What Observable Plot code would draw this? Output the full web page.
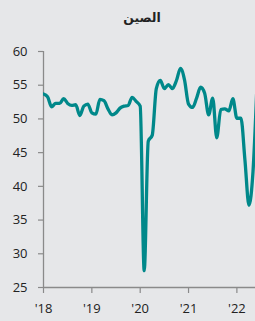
<!DOCTYPE html>
<html><head><meta charset="utf-8">
<script src="https://cdn.jsdelivr.net/npm/d3@7"></script>
<script src="https://cdn.jsdelivr.net/npm/@observablehq/plot@0.6"></script>
<style>
html,body{margin:0;padding:0;background:#e6e7e9;}
#wrap{width:255px;height:321px;overflow:hidden;background:#e6e7e9;}
#title{height:36px;line-height:36px;box-sizing:border-box;padding-left:29px;text-align:center;font-family:"DejaVu Sans",sans-serif;font-size:12.5px;font-weight:bold;color:#222;}
svg{display:block;}
</style></head>
<body><div id="wrap"><div id="title" dir="rtl">الصين</div><div id="chart"></div></div>
<script>
const title = "الصين";
const startYear = 2018;
const pmi = [
  53.7, 53.3, 51.8, 52.3, 52.3, 53.0, 52.3, 52.0, 52.1, 50.5, 51.9, 52.2,
  50.9, 50.7, 52.9, 52.7, 51.5, 50.6, 50.9, 51.6, 51.9, 52.0, 53.2, 52.6,
  51.9, 27.5, 46.7, 47.6, 54.5, 55.7, 54.5, 55.1, 54.5, 55.7, 57.5, 55.8,
  52.2, 51.7, 53.1, 54.7, 53.8, 50.6, 53.1, 47.2, 51.4, 51.5, 51.2, 53.0,
  50.1, 50.1, 43.9, 37.2, 42.2, 55.3
];
const yTicks = [25, 30, 35, 40, 45, 50, 55, 60];
const xTicks = [2018, 2019, 2020, 2021, 2022];
const xTickLabels = ["'18", "'19", "'20", "'21", "'22"];

const data = pmi.map((v, i) => ({t: startYear + i / 12, v}));

const chart = Plot.plot({
  width: 255,
  height: 285,
  marginLeft: 43,
  marginRight: 0,
  marginTop: 15,
  marginBottom: 34,
  style: {background: "#e6e7e9", fontFamily: "'Open Sans', sans-serif", fontSize: "13px", color: "#222", overflow: "hidden"},
  x: {domain: [2018, 2022.385], ticks: xTicks, tickFormat: d => xTickLabels[xTicks.indexOf(d)], tickSize: 6, tickPadding: 10, label: null},
  y: {domain: [25, 60], ticks: yTicks, tickSize: 5, tickPadding: 11, label: null},
  marks: [
    Plot.axisX({ticks: xTicks, tickFormat: d => xTickLabels[xTicks.indexOf(d)], tickSize: 6, tickPadding: 10, stroke: "#8a8a8a", strokeWidth: 1.2, color: "#222", fontSize: 13}),
    Plot.axisY({ticks: yTicks, tickSize: 5, tickPadding: 11, stroke: "#8a8a8a", strokeWidth: 1.2, color: "#222", fontSize: 13}),
    Plot.ruleX([2018], {stroke: "#8a8a8a", strokeWidth: 1.3}),
    Plot.ruleY([25], {stroke: "#8a8a8a", strokeWidth: 1.3}),
    Plot.line(data, {x: "t", y: "v", stroke: "#00888a", strokeWidth: 3.3, curve: "monotone-x", clip: true})
  ]
});
document.getElementById("chart").appendChild(chart);
</script></body></html>
